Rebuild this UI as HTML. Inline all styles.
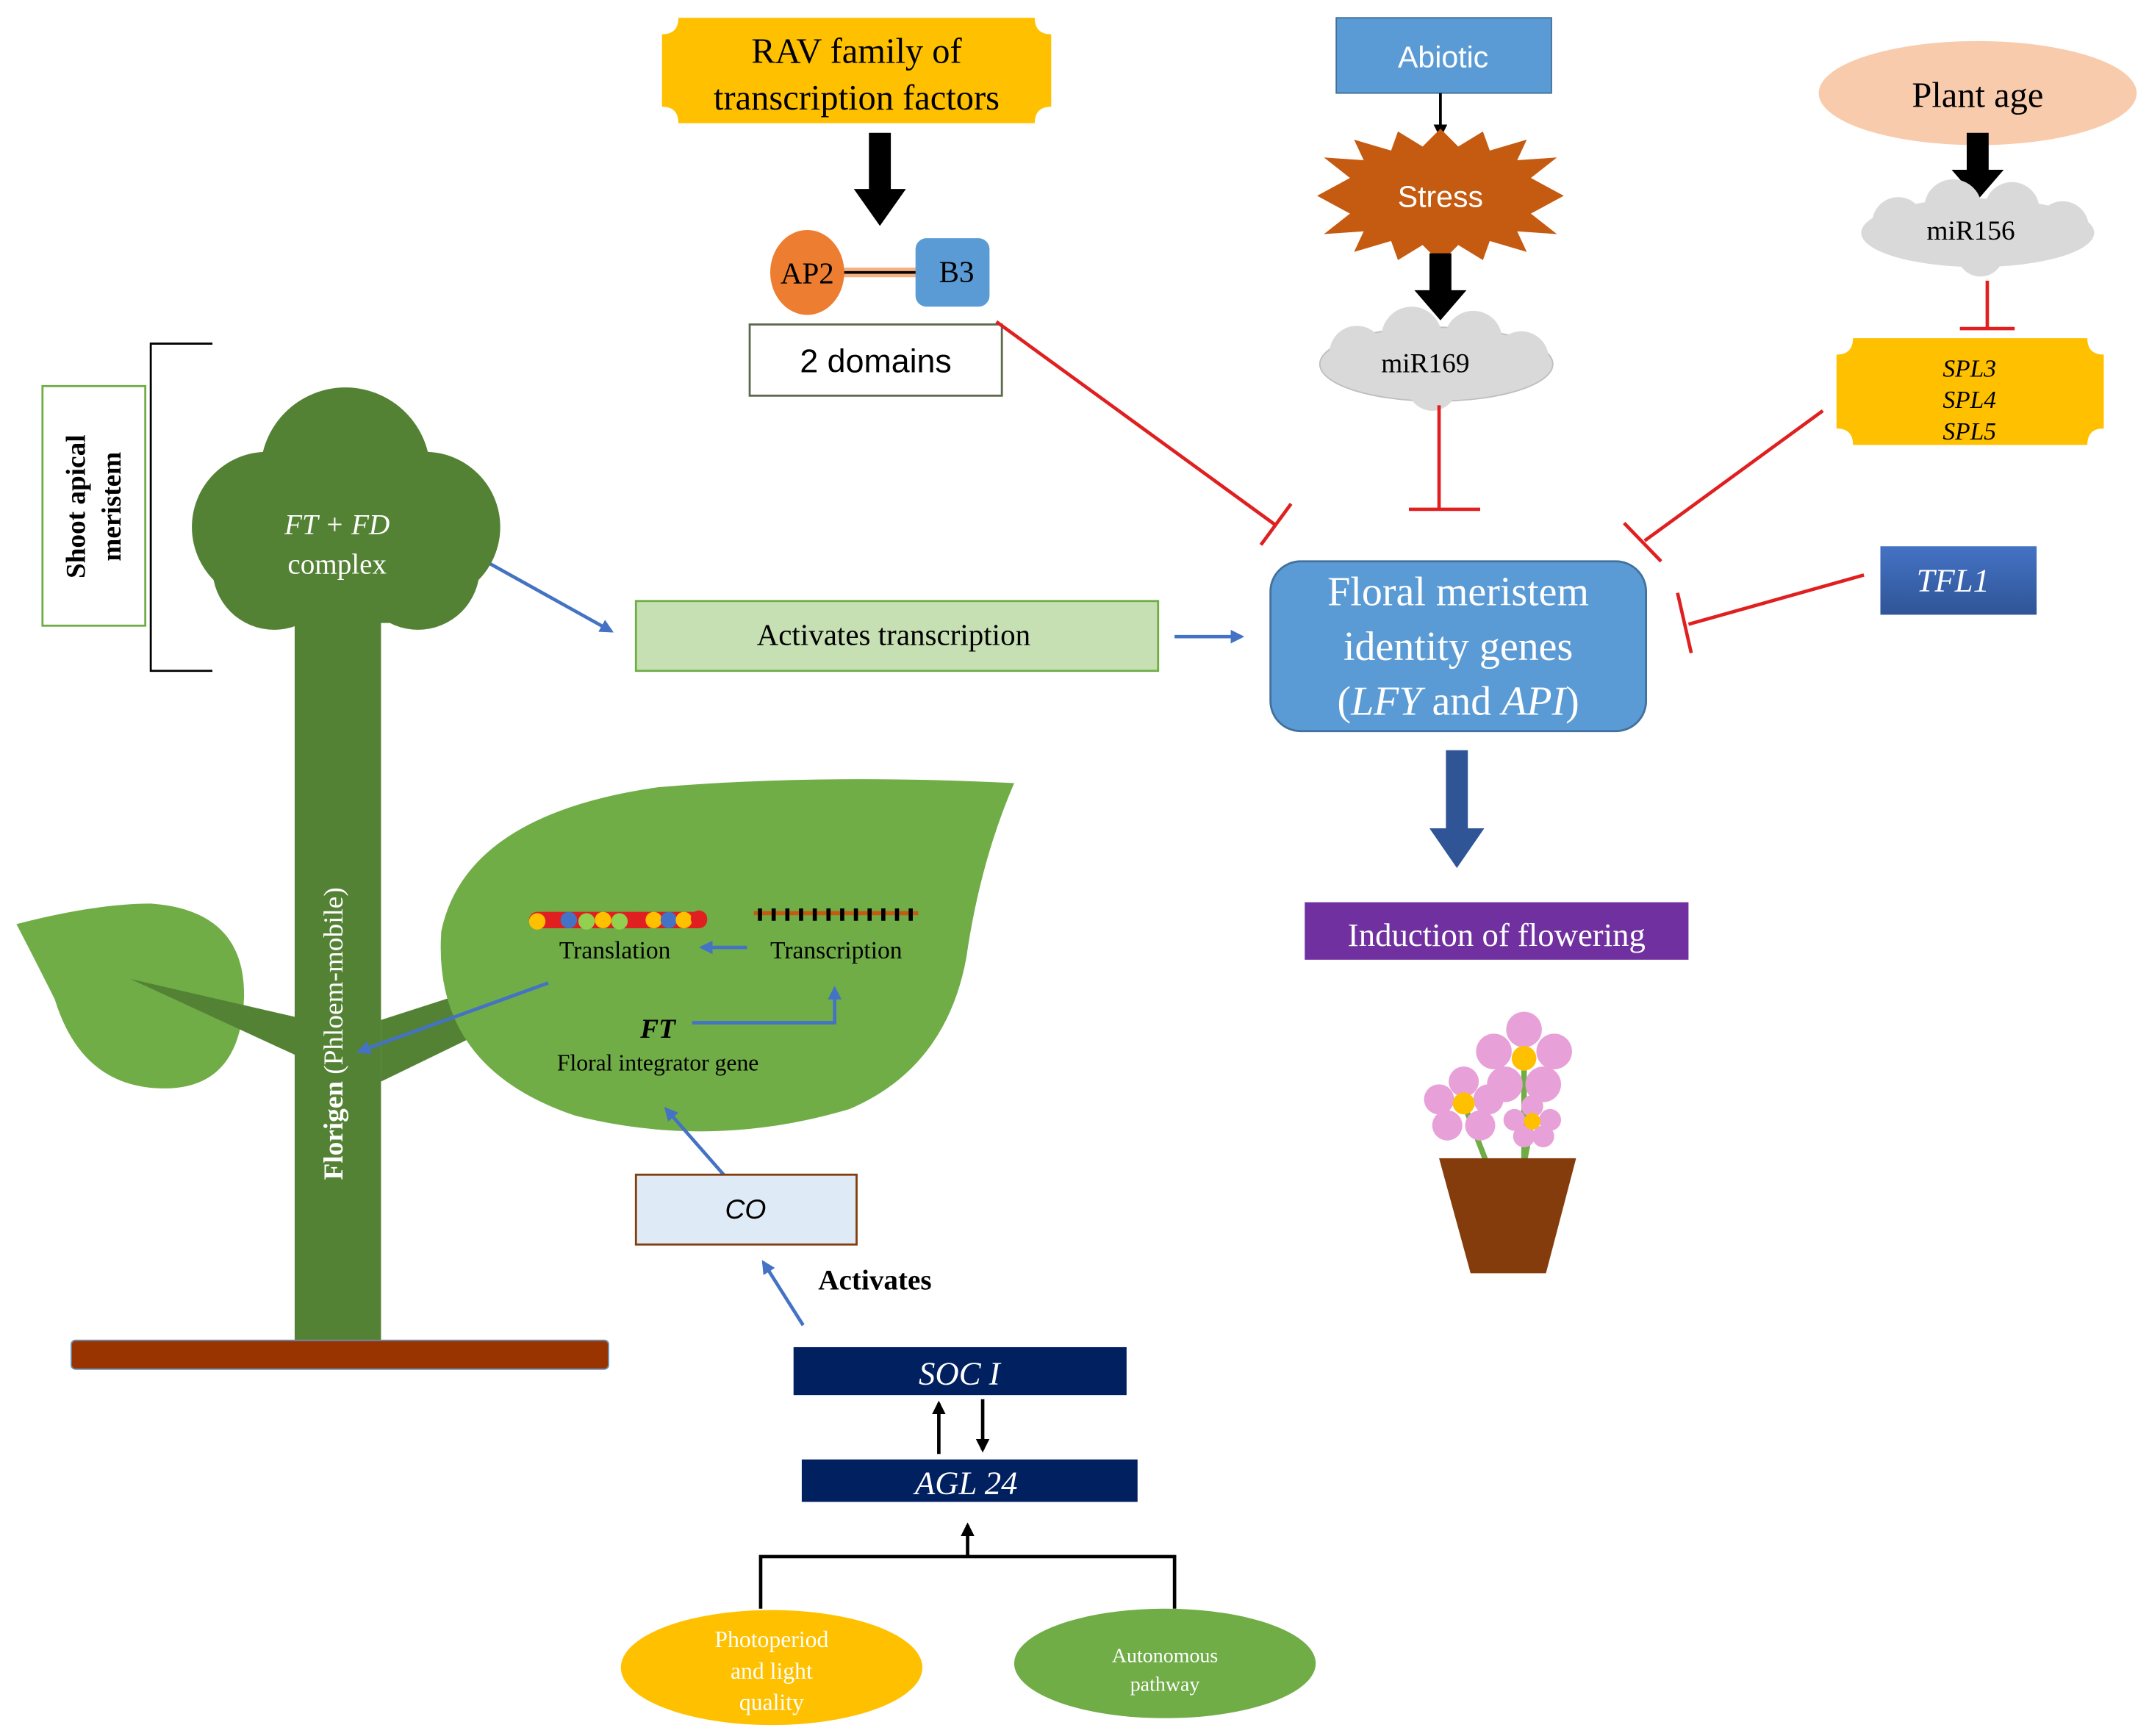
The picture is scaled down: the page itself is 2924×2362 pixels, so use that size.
<!DOCTYPE html>
<html><head><meta charset="utf-8"><style>html,body{margin:0;padding:0;background:#fff}svg{display:block}</style></head>
<body>
<svg width="2924" height="2362" viewBox="0 0 1568 1268" preserveAspectRatio="none" xmlns="http://www.w3.org/2000/svg" font-family="'Liberation Serif',serif">
<defs>
<marker id="bl" markerWidth="10" markerHeight="10" refX="8" refY="5" orient="auto" markerUnits="userSpaceOnUse"><path d="M0,0 L10,5 L0,10 Z" fill="#4472C4"/></marker>
<marker id="bk" markerWidth="10" markerHeight="10" refX="8" refY="5" orient="auto" markerUnits="userSpaceOnUse"><path d="M0,0 L10,5 L0,10 Z" fill="#000"/></marker>
<linearGradient id="tfl" x1="0" y1="0" x2="0" y2="1"><stop offset="0" stop-color="#4472C4"/><stop offset="1" stop-color="#2F5597"/></linearGradient>
</defs>

<!-- RAV -->
<path d="M495,13 H755 Q755,25 767,25 V78 Q755,78 755,90 H495 Q495,78 483,78 V25 Q495,25 495,13 Z" fill="#FFC000"/>
<text x="625" y="46" font-size="26" text-anchor="middle">RAV family of</text>
<text x="625" y="80" font-size="26" text-anchor="middle">transcription factors</text>
<path d="M634,97 H650 V138 H661 L642,165 L623,138 H634 Z" fill="#000"/>
<line x1="600" y1="199" x2="670" y2="199" stroke="#F4B183" stroke-width="7"/>
<line x1="600" y1="199" x2="670" y2="199" stroke="#000" stroke-width="2"/>
<ellipse cx="589" cy="199" rx="27" ry="31" fill="#ED7D31"/>
<text x="589" y="207" font-size="22" text-anchor="middle">AP2</text>
<rect x="668" y="174" width="54" height="50" rx="8" fill="#5B9BD5"/>
<text x="698" y="206" font-size="22" text-anchor="middle">B3</text>
<rect x="547" y="237" width="184" height="52" fill="#fff" stroke="#5a6a4a" stroke-width="1.5"/>
<text x="639" y="272" font-size="24" text-anchor="middle" font-family="'Liberation Sans',sans-serif">2 domains</text>
<line x1="727" y1="235" x2="930" y2="383" stroke="#E02020" stroke-width="2.5"/>
<line x1="920" y1="398" x2="942" y2="368" stroke="#E02020" stroke-width="2.5"/>

<!-- Abiotic -->
<rect x="975" y="13" width="157" height="55" fill="#5B9BD5" stroke="#41719C"/>
<text x="1053" y="49" font-size="22" fill="#fff" text-anchor="middle" font-family="'Liberation Sans',sans-serif">Abiotic</text>
<line x1="1051" y1="68" x2="1051" y2="99" stroke="#000" stroke-width="2" marker-end="url(#bk)"/>
<polygon fill="#C55A11" points="961,143 985,130 966,115 995,117 988,102 1015,110 1020,96 1038,107 1051,94 1064,107 1082,96 1087,110 1114,102 1107,117 1136,115 1117,130 1141,143 1117,156 1136,171 1107,169 1114,184 1087,176 1082,190 1064,179 1051,192 1038,179 1020,190 1015,176 988,184 995,169 966,171 985,156"/>
<text x="1051" y="151" font-size="22" fill="#fff" text-anchor="middle" font-family="'Liberation Sans',sans-serif">Stress</text>
<path d="M1043,185 H1059 V212 H1070 L1051,234 L1032,212 H1043 Z" fill="#000"/>
<g fill="#D9D9D9" stroke="#bfbfbf">
<ellipse cx="1048" cy="266" rx="85" ry="27"/>
</g>
<g fill="#D9D9D9"><circle cx="990" cy="258" r="20"/><circle cx="1030" cy="246" r="22"/><circle cx="1075" cy="248" r="21"/><circle cx="1110" cy="262" r="20"/><circle cx="1045" cy="282" r="18"/></g>
<text x="1040" y="272" font-size="20" text-anchor="middle">miR169</text>
<line x1="1050" y1="296" x2="1050" y2="372" stroke="#E02020" stroke-width="2.5"/>
<line x1="1028" y1="372" x2="1080" y2="372" stroke="#E02020" stroke-width="2.5"/>

<!-- Plant age -->
<ellipse cx="1443" cy="68" rx="116" ry="38" fill="#F8CBAD"/>
<text x="1443" y="78" font-size="26" text-anchor="middle">Plant age</text>
<path d="M1435,97 H1451 V124 H1462 L1443,146 L1424,124 H1435 Z" fill="#000"/>
<ellipse cx="1443" cy="170" rx="85" ry="25" fill="#D9D9D9"/>
<g fill="#D9D9D9"><circle cx="1385" cy="163" r="19"/><circle cx="1425" cy="152" r="21"/><circle cx="1468" cy="153" r="20"/><circle cx="1505" cy="166" r="19"/><circle cx="1445" cy="185" r="17"/></g>
<text x="1438" y="175" font-size="20" text-anchor="middle">miR156</text>
<line x1="1450" y1="205" x2="1450" y2="240" stroke="#E02020" stroke-width="2.5"/>
<line x1="1430" y1="240" x2="1470" y2="240" stroke="#E02020" stroke-width="2.5"/>
<path d="M1352,247 H1523 Q1523,259 1535,259 V313 Q1523,313 1523,325 H1352 Q1352,313 1340,313 V259 Q1352,259 1352,247 Z" fill="#FFC000"/>
<text x="1437" y="275" font-size="18" font-style="italic" text-anchor="middle">SPL3</text>
<text x="1437" y="298" font-size="18" font-style="italic" text-anchor="middle">SPL4</text>
<text x="1437" y="321" font-size="18" font-style="italic" text-anchor="middle">SPL5</text>
<line x1="1330" y1="300" x2="1200" y2="395" stroke="#E02020" stroke-width="2.5"/>
<line x1="1185" y1="382" x2="1212" y2="410" stroke="#E02020" stroke-width="2.5"/>
<rect x="1372" y="399" width="114" height="50" fill="url(#tfl)"/>
<text x="1425" y="432" font-size="24" fill="#fff" font-style="italic" text-anchor="middle">TFL1</text>
<line x1="1360" y1="420" x2="1232" y2="456" stroke="#E02020" stroke-width="2.5"/>
<line x1="1224" y1="433" x2="1234" y2="477" stroke="#E02020" stroke-width="2.5"/>

<!-- Floral meristem -->
<rect x="927" y="410" width="274" height="124" rx="22" fill="#5B9BD5" stroke="#41719C" stroke-width="1.5"/>
<text x="1064" y="442" font-size="30" fill="#fff" text-anchor="middle">Floral meristem</text>
<text x="1064" y="482" font-size="30" fill="#fff" text-anchor="middle">identity  genes</text>
<text x="1064" y="522" font-size="30" fill="#fff" text-anchor="middle">(<tspan font-style="italic">LFY</tspan> and <tspan font-style="italic">API</tspan>)</text>
<path d="M1055,548 H1071 V605 H1083 L1063,634 L1043,605 H1055 Z" fill="#2F5597"/>
<rect x="952" y="659" width="280" height="42" fill="#7030A0"/>
<text x="1092" y="691" font-size="24" fill="#fff" text-anchor="middle">Induction  of flowering</text>

<!-- flower pot -->
<line x1="1112" y1="775" x2="1112" y2="850" stroke="#70AD47" stroke-width="4"/>
<line x1="1068" y1="806" x2="1085" y2="850" stroke="#70AD47" stroke-width="4"/>
<line x1="1118" y1="818" x2="1112" y2="850" stroke="#70AD47" stroke-width="4"/>
<g fill="#E8A0D8"><circle cx="1112" cy="752" r="13"/><circle cx="1090" cy="768" r="13"/><circle cx="1134" cy="768" r="13"/><circle cx="1098" cy="792" r="13"/><circle cx="1126" cy="792" r="13"/>
<circle cx="1068" cy="790" r="11"/><circle cx="1050" cy="803" r="11"/><circle cx="1086" cy="803" r="11"/><circle cx="1056" cy="822" r="11"/><circle cx="1080" cy="822" r="11"/>
<circle cx="1118" cy="808" r="8"/><circle cx="1105" cy="818" r="8"/><circle cx="1131" cy="818" r="8"/><circle cx="1112" cy="830" r="8"/><circle cx="1126" cy="830" r="8"/></g>
<g fill="#FFC000"><circle cx="1112" cy="773" r="9"/><circle cx="1068" cy="806" r="8"/><circle cx="1118" cy="819" r="6"/></g>
<polygon points="1050,846 1150,846 1128,930 1073,930" fill="#843C0C"/>

<!-- Activates transcription -->
<rect x="464" y="439" width="381" height="51" fill="#C6E0B4" stroke="#70AD47" stroke-width="1.5"/>
<text x="652" y="471" font-size="22" text-anchor="middle">Activates transcription</text>
<line x1="349" y1="407" x2="446" y2="461" stroke="#4472C4" stroke-width="2.5" marker-end="url(#bl)"/>
<line x1="857" y1="465" x2="906" y2="465" stroke="#4472C4" stroke-width="2.5" marker-end="url(#bl)"/>

<!-- shoot apical meristem -->
<path d="M155,251 H110 V490 H155" fill="none" stroke="#000" stroke-width="1.5"/>
<rect x="31" y="282" width="75" height="175" fill="#fff" stroke="#70AD47" stroke-width="1.5"/>
<text transform="translate(62,370) rotate(-90)" font-size="20" font-weight="bold" text-anchor="middle">Shoot apical</text>
<text transform="translate(88,370) rotate(-90)" font-size="20" font-weight="bold" text-anchor="middle">meristem</text>

<!-- tree -->
<rect x="215" y="420" width="63" height="565" fill="#548235"/>
<g fill="#548235"><circle cx="252" cy="345" r="62"/><circle cx="195" cy="385" r="55"/><circle cx="310" cy="385" r="55"/><circle cx="200" cy="415" r="45"/><circle cx="305" cy="415" r="45"/><rect x="185" y="380" width="135" height="75" rx="20"/></g>
<text x="246" y="390" font-size="21" fill="#fff" font-style="italic" text-anchor="middle">FT + FD</text>
<text x="246" y="419" font-size="21" fill="#fff" text-anchor="middle">complex</text>
<!-- left leaf -->
<path d="M12,675 Q70,660 110,660 Q180,665 178,730 Q175,795 120,795 Q60,795 40,730 Q25,700 12,675 Z" fill="#70AD47"/>
<polygon points="95,715 225,745 225,775" fill="#548235"/>
<polygon points="278,745 340,725 350,755 278,790" fill="#548235"/>
<!-- right leaf -->
<path d="M740,572 Q600,565 480,575 Q340,595 322,680 Q315,780 420,815 Q520,840 620,810 Q690,780 705,700 Q715,630 740,572 Z" fill="#70AD47"/>
<g>
<rect x="386" y="666" width="130" height="12" rx="6" fill="#E02020"/>
<g><circle cx="392" cy="673" r="6" fill="#FFC000"/><circle cx="405" cy="672" r="6" fill="#E02020"/><circle cx="415" cy="672" r="6" fill="#4472C4"/><circle cx="428" cy="673" r="6" fill="#92D050"/><circle cx="440" cy="672" r="6" fill="#FFC000"/><circle cx="452" cy="673" r="6" fill="#92D050"/><circle cx="465" cy="672" r="6" fill="#E02020"/><circle cx="477" cy="672" r="6" fill="#FFC000"/><circle cx="488" cy="672" r="6" fill="#4472C4"/><circle cx="499" cy="672" r="6" fill="#FFC000"/><circle cx="510" cy="671" r="6" fill="#E02020"/></g>
</g>
<line x1="550" y1="667" x2="670" y2="667" stroke="#C55A11" stroke-width="3"/>
<line x1="553" y1="668" x2="668" y2="668" stroke="#000" stroke-width="9" stroke-dasharray="3,7"/>
<text x="408" y="700" font-size="18">Translation</text>
<text x="562" y="700" font-size="18">Transcription</text>
<line x1="545" y1="692" x2="512" y2="692" stroke="#4472C4" stroke-width="2.5" marker-end="url(#bl)"/>
<line x1="400" y1="718" x2="262" y2="768" stroke="#4472C4" stroke-width="2.5" marker-end="url(#bl)"/>
<text x="480" y="758" font-size="20" font-weight="bold" font-style="italic" text-anchor="middle">FT</text>
<text x="480" y="782" font-size="17" text-anchor="middle">Floral integrator gene</text>
<path d="M505,747 H609 V722" fill="none" stroke="#4472C4" stroke-width="2.5" marker-end="url(#bl)"/>
<text transform="translate(250,755) rotate(-90)" font-size="20" fill="#fff" text-anchor="middle"><tspan font-weight="bold">Florigen</tspan> (Phloem-mobile)</text>
<rect x="52" y="979" width="392" height="21" rx="3" fill="#993300" stroke="#6a8ab0"/>

<!-- CO -->
<line x1="528" y1="858" x2="486" y2="810" stroke="#4472C4" stroke-width="2.5" marker-end="url(#bl)"/>
<rect x="464" y="858" width="161" height="51" fill="#DEEBF7" stroke="#843C0C" stroke-width="1.5"/>
<text x="544" y="890" font-size="20" font-style="italic" text-anchor="middle" font-family="'Liberation Sans',sans-serif">CO</text>
<line x1="586" y1="968" x2="557" y2="922" stroke="#4472C4" stroke-width="2.5" marker-end="url(#bl)"/>
<text x="597" y="942" font-size="21" font-weight="bold">Activates</text>
<rect x="579" y="984" width="243" height="35" fill="#002060"/>
<text x="700" y="1011" font-size="24" fill="#fff" font-style="italic" text-anchor="middle">SOC I</text>
<line x1="685" y1="1062" x2="685" y2="1025" stroke="#000" stroke-width="2.5" marker-end="url(#bk)"/>
<line x1="717" y1="1022" x2="717" y2="1059" stroke="#000" stroke-width="2.5" marker-end="url(#bk)"/>
<rect x="585" y="1066" width="245" height="31" fill="#002060"/>
<text x="705" y="1091" font-size="24" fill="#fff" font-style="italic" text-anchor="middle">AGL 24</text>
<path d="M555,1175 V1137 H857 V1175" fill="none" stroke="#000" stroke-width="2.5"/>
<line x1="706" y1="1137" x2="706" y2="1114" stroke="#000" stroke-width="2.5" marker-end="url(#bk)"/>
<ellipse cx="563" cy="1218" rx="110" ry="42" fill="#FFC000"/>
<text x="563" y="1203" font-size="17" fill="#fff" text-anchor="middle">Photoperiod</text>
<text x="563" y="1226" font-size="17" fill="#fff" text-anchor="middle">and light</text>
<text x="563" y="1249" font-size="17" fill="#fff" text-anchor="middle">quality</text>
<ellipse cx="850" cy="1215" rx="110" ry="40" fill="#70AD47"/>
<text x="850" y="1214" font-size="15" fill="#fff" text-anchor="middle">Autonomous</text>
<text x="850" y="1235" font-size="15" fill="#fff" text-anchor="middle">pathway</text>
</svg>
</body></html>
